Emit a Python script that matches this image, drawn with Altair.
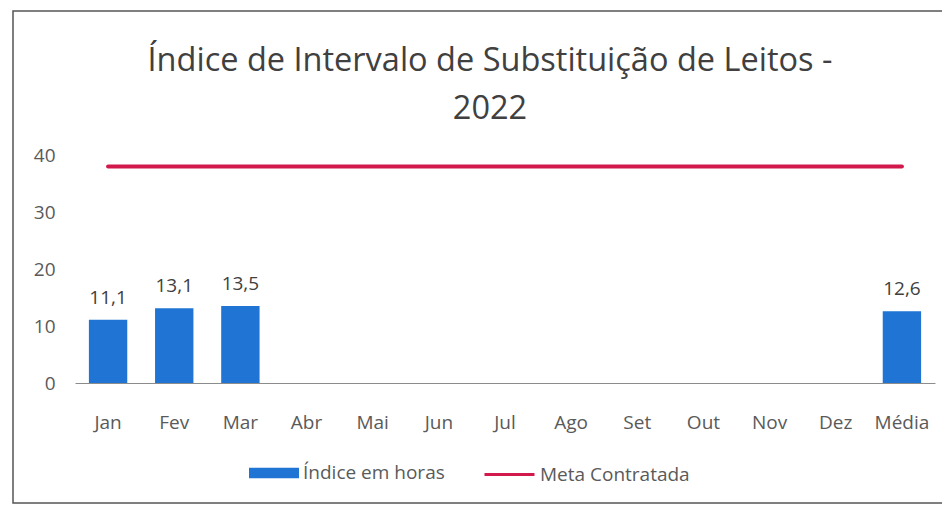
import altair as alt
import pandas as pd

months = ["Jan", "Fev", "Mar", "Abr", "Mai", "Jun", "Jul", "Ago", "Set", "Out", "Nov", "Dez", "Média"]
indice = [11.1, 13.1, 13.5, None, None, None, None, None, None, None, None, None, 12.6]
meta = [38, 38, 38, 38, 38, 38, 38, 38, 38, 38, 38, 38, 38]

labels = [("" if v is None else f"{v:.1f}".replace(".", ",")) for v in indice]

df = pd.DataFrame({"mes": months, "indice": indice, "meta": meta, "label": labels})

BLUE = "#1f74d4"
RED = "#d11a4b"
FONT = "Open Sans"
GRAY = "#5a5a5a"
FS = 19

x_enc = alt.X("mes:N", sort=months, title=None,
              scale=alt.Scale(paddingInner=0.42, paddingOuter=0.21),
              axis=alt.Axis(labelAngle=0, ticks=False, domainColor="#8c8c8c", domainWidth=1,
                            labelPadding=30, labelFontSize=FS, labelColor=GRAY, labelFont=FONT))

y_enc_axis = alt.Axis(values=[0, 10, 20, 30, 40], grid=False, domain=False, ticks=False,
                      labelPadding=20, labelFontSize=FS, labelColor=GRAY, labelFont=FONT)

leg_common = dict(orient="none", direction="horizontal", title=None,
                  labelFont=FONT, labelFontSize=FS, labelColor=GRAY, symbolSize=2500,
                  labelOffset=4, symbolOpacity=1)

legend_bar = alt.Legend(legendX=174, legendY=293, symbolType="M-1,-0.21H1V0.21H-1Z",
                        symbolStrokeWidth=0, **leg_common)
legend_line = alt.Legend(legendX=408, legendY=293, symbolType="stroke",
                         symbolStrokeWidth=3, **leg_common)

base = alt.Chart(df)

frame = alt.Chart(pd.DataFrame({"k": [0]})).mark_rect(
    fill="transparent", stroke="#555555", strokeWidth=1.5
).encode(
    x=alt.value(-62), x2=alt.value(872), y=alt.value(-144), y2=alt.value(348)
)

bars = base.transform_calculate(serie="'Índice em horas'").mark_bar().encode(
    x=x_enc,
    y=alt.Y("indice:Q", title=None, scale=alt.Scale(domain=[0, 40], nice=False), axis=y_enc_axis),
    fill=alt.Fill("serie:N", scale=alt.Scale(domain=["Índice em horas"], range=[BLUE]), legend=legend_bar),
)

text = base.mark_text(dy=-12, fontSize=FS, font=FONT, color="#404040", baseline="bottom").encode(
    x=alt.X("mes:N", sort=months),
    y=alt.Y("indice:Q"),
    text="label:N",
)

line = base.transform_calculate(serie="'Meta Contratada'").mark_line(strokeWidth=4, strokeCap="round").encode(
    x=alt.X("mes:N", sort=months),
    y=alt.Y("meta:Q"),
    stroke=alt.Stroke("serie:N", scale=alt.Scale(domain=["Meta Contratada"], range=[RED]), legend=legend_line),
)

chart = alt.layer(frame, bars, line, text).properties(
    width=860, height=228,
    background="white",
    padding={"left": 67, "top": 147, "right": 7, "bottom": 121},
    autosize=alt.AutoSizeParams(type="none"),
    title=alt.TitleParams(
        ["Índice de Intervalo de Substituição de Leitos -", "2022"],
        fontSize=32.5, font=FONT, fontWeight="normal", color="#404040",
        lineHeight=48, anchor="middle", dx=-15, offset=0, dy=115,
    ),
).resolve_scale(fill="independent", stroke="independent").configure_view(strokeWidth=0, stroke="transparent")

chart.save("out.html", embed_options={"renderer": "svg", "actions": False})
